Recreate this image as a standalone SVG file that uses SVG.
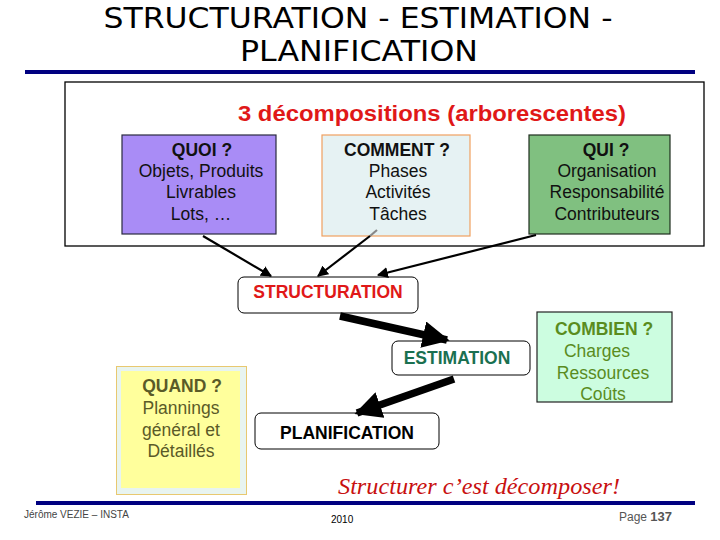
<svg xmlns="http://www.w3.org/2000/svg" width="720" height="540" viewBox="0 0 720 540">
<style>
.t{font-family:"Liberation Sans",Arial,sans-serif;font-size:17.5px;text-anchor:middle}
.b{font-weight:bold}
.title{font-family:"Comic Sans MS","DejaVu Sans",sans-serif;font-size:29px;text-anchor:middle;fill:#000}
.box{stroke-width:1.2}
.rbox{fill:#fff;stroke:#000;stroke-width:1}
.thin{stroke:#000;stroke-width:2.2;fill:none}
.thick{stroke:#000;stroke-width:7.5;fill:none}
</style>
<defs>
<marker id="ah" viewBox="0 0 10 10" refX="9" refY="5" markerWidth="5" markerHeight="5" orient="auto" markerUnits="strokeWidth">
<path d="M0,0 L10,5 L0,10 z" fill="#000"/>
</marker>
<marker id="ahT" viewBox="0 0 10 10" refX="9" refY="5" markerWidth="3.6" markerHeight="3.6" orient="auto" markerUnits="strokeWidth">
<path d="M0,0 L10,5 L0,10 z" fill="#000"/>
</marker>
</defs>
<rect width="720" height="540" fill="#fff"/>

<g id="title">
<text class="title" x="358" y="28" textLength="509" lengthAdjust="spacingAndGlyphs">STRUCTURATION - ESTIMATION -</text>
<text class="title" x="359" y="61" textLength="238" lengthAdjust="spacingAndGlyphs">PLANIFICATION</text>
<rect x="25" y="70" width="670" height="4" fill="#000080"/>
</g>

<g id="frame">
<rect x="65" y="82" width="639" height="164" fill="#fff" stroke="#000" stroke-width="1.3"/>
<text class="t b" x="432" y="121" style="font-size:22px" fill="#e01818" textLength="388" lengthAdjust="spacingAndGlyphs">3 décompositions (arborescentes)</text>
</g>

<g id="quoi">
<rect class="box" x="122" y="135" width="154" height="99" fill="#a98cf6" stroke="#2a2a40"/>
<text class="t b" x="202" y="156" fill="#111">QUOI  ?</text>
<text class="t" x="201" y="177" fill="#111">Objets, Produits</text>
<text class="t" x="201" y="198" fill="#111">Livrables</text>
<text class="t" x="201" y="220" fill="#111">Lots, …</text>
</g>

<g id="comment">
<rect class="box" x="322" y="135" width="148" height="101" fill="#e6f2f3" stroke="#f0a060"/>
<text class="t b" x="397" y="156" fill="#111">COMMENT ?</text>
<text class="t" x="398" y="177" fill="#111">Phases</text>
<text class="t" x="398" y="198" fill="#111">Activités</text>
<text class="t" x="398" y="220" fill="#111">Tâches</text>
</g>

<g id="qui">
<rect class="box" x="529" y="135" width="141" height="99" fill="#80c080" stroke="#1e2e1e"/>
<text class="t b" x="606" y="156" fill="#111">QUI ?</text>
<text class="t" x="607" y="177" fill="#111">Organisation</text>
<text class="t" x="607" y="198" fill="#111">Responsabilité</text>
<text class="t" x="607" y="220" fill="#111">Contributeurs</text>
</g>

<g id="structuration">
<rect class="rbox" x="238" y="277" width="180" height="36" rx="6"/>
<text class="t b" x="328" y="298" fill="#e01818">STRUCTURATION</text>
</g>

<g id="estimation">
<rect class="rbox" x="392" y="341" width="138" height="34" rx="6"/>
<text class="t b" x="457" y="364" fill="#1a7050">ESTIMATION</text>
</g>

<g id="planification">
<rect class="rbox" x="255" y="413" width="184" height="36" rx="6"/>
<text class="t b" x="347" y="439" fill="#000">PLANIFICATION</text>
</g>

<g id="combien">
<rect class="box" x="537" y="312" width="135" height="90" fill="#ccfde0" stroke="#222"/>
<text class="t b" x="604" y="335" fill="#5a8c1e">COMBIEN ?</text>
<text class="t" x="597" y="357" fill="#5a8c1e">Charges</text>
<text class="t" x="603" y="379" fill="#5a8c1e">Ressources</text>
<text class="t" x="603" y="400" fill="#5a8c1e">Coûts</text>
</g>

<g id="quand">
<rect x="116.5" y="366.5" width="130" height="128" fill="#e8f4f0" stroke="#e8c870" stroke-width="1"/>
<rect x="121" y="371" width="119" height="117" fill="#ffff9c"/>
<text class="t b" x="182" y="392" fill="#5a5a28">QUAND ?</text>
<text class="t" x="181" y="414" fill="#5a5a28">Plannings</text>
<text class="t" x="181" y="436" fill="#5a5a28">général et</text>
<text class="t" x="181" y="457" fill="#5a5a28">Détaillés</text>
</g>

<g id="connectors">
<line class="thin" x1="203" y1="236" x2="271" y2="276" marker-end="url(#ah)"/>
<line x1="377" y1="230" x2="370" y2="236" stroke="#888" stroke-width="2.2"/>
<line class="thin" x1="370" y1="236" x2="318" y2="276" marker-end="url(#ah)"/>
<line class="thin" x1="536" y1="235" x2="378" y2="275" marker-end="url(#ah)"/>
<line class="thick" x1="340" y1="316" x2="447" y2="340" marker-end="url(#ahT)"/>
<line class="thick" x1="454" y1="379" x2="357" y2="413" marker-end="url(#ahT)"/>
</g>

<g id="footer">
<text x="338" y="494" style="font-family:'Liberation Serif','Times New Roman',serif;font-size:24px;font-style:italic" fill="#c81010" textLength="282" lengthAdjust="spacingAndGlyphs">Structurer c’est décomposer!</text>
<rect x="36" y="501" width="659" height="4" fill="#000080"/>
<text x="24" y="518" style="font-family:'Liberation Sans',Arial,sans-serif;font-size:10px" fill="#444">Jérôme VEZIE – INSTA</text>
<text x="331" y="523" style="font-family:'Liberation Sans',Arial,sans-serif;font-size:10px" fill="#000">2010</text>
<text x="619" y="521" style="font-family:'Liberation Sans',Arial,sans-serif;font-size:12px" fill="#555">Page <tspan font-weight="bold" font-size="13px">137</tspan></text>
</g>
</svg>
